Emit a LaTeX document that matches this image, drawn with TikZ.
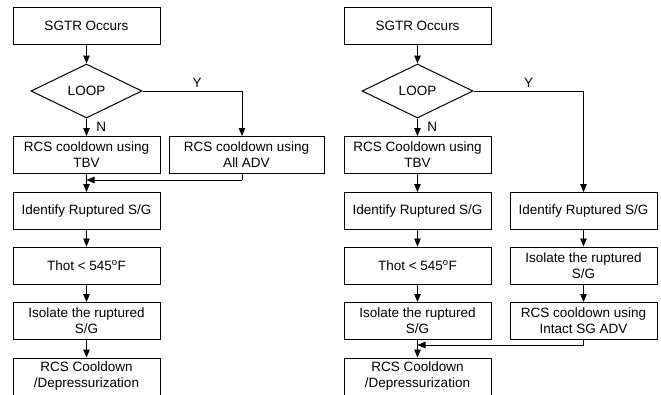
\documentclass[tikz,border=0pt]{standalone}
\usepackage{fontspec}
\setmainfont{Liberation Sans}
\usetikzlibrary{shapes}
\usetikzlibrary{arrows.meta}

\tikzset{
    box/.style={draw, line width=1pt, minimum width=147pt, minimum height=37pt,
        inner sep=0pt, align=center},
    decision/.style={draw, line width=1pt, diamond, minimum width=111pt,
        minimum height=54pt, inner sep=0pt},
    flow/.style={line width=0.9pt, -{Triangle[length=8pt,width=6.5pt]}},
    plain/.style={line width=0.9pt},
}

\begin{document}
\begin{tikzpicture}[x=1pt, y=-1pt, font=\fontsize{13.5}{16}\selectfont]
    \useasboundingbox (0,0) rectangle (661,394);

    \node[box] (occA) at (86.5,25.5) {SGTR Occurs};
    \node[decision] (loopA) at (86.5,91) {LOOP};
    \node[box] (tbvA) at (86.5,155) {RCS cooldown using\\TBV};
    \node[box, minimum width=155pt] (advA) at (246.5,155) {RCS cooldown using\\All ADV};
    \node[box] (idA) at (86.5,211) {Identify Ruptured S/G};
    \node[box] (thotA) at (86.5,265.5) {Thot < 545\textsuperscript{o}F};
    \node[box] (isoA) at (86.5,321) {Isolate the ruptured\\S/G};
    \node[box] (depA) at (86.5,376.5) {RCS Cooldown\\/Depressurization};

    \node[box] (occB) at (417.5,25.5) {SGTR Occurs};
    \node[decision] (loopB) at (417.5,91) {LOOP};
    \node[box] (tbvB) at (417.5,155) {RCS Cooldown using\\TBV};
    \node[box] (idB) at (417.5,211) {Identify Ruptured S/G};
    \node[box] (thotB) at (417.5,265.5) {Thot < 545\textsuperscript{o}F};
    \node[box] (isoB) at (417.5,321) {Isolate the ruptured\\S/G};
    \node[box] (depB) at (417.5,376.5) {RCS Cooldown\\/Depressurization};
    \node[box] (idC) at (583.5,211) {Identify Ruptured S/G};
    \node[box] (isoC) at (583.5,265.5) {Isolate the ruptured\\S/G};
    \node[box] (advC) at (583.5,321) {RCS cooldown using\\Intact SG ADV};

    \coordinate (yA) at (242,91);
    \coordinate (mA) at (242,180);
    \coordinate (jA) at (86.5,180);
    \coordinate (yB) at (583.5,91);
    \coordinate (mB) at (583.5,345);
    \coordinate (jB) at (417.5,345);

    \draw[flow] (occA) -- (loopA);
    \draw[flow] (loopA) -- node[right, xshift=6pt] {N} (tbvA);
    \draw[plain] (loopA.east) -- node[above, pos=0.55] {Y} (yA);
    \draw[flow] (yA) -- (yA |- advA.north);
    \draw[flow] (tbvA) -- (idA);
    \draw[plain] (mA |- advA.south) -- (mA);
    \draw[flow] (mA) -- (jA);
    \draw[flow] (idA) -- (thotA);
    \draw[flow] (thotA) -- (isoA);
    \draw[flow] (isoA) -- (depA);

    \draw[flow] (occB) -- (loopB);
    \draw[flow] (loopB) -- node[right, xshift=6pt] {N} (tbvB);
    \draw[plain] (loopB.east) -- node[above, pos=0.5] {Y} (yB);
    \draw[flow] (yB) -- (idC);
    \draw[flow] (tbvB) -- (idB);
    \draw[flow] (idB) -- (thotB);
    \draw[flow] (thotB) -- (isoB);
    \draw[flow] (isoB) -- (depB);
    \draw[flow] (idC) -- (isoC);
    \draw[flow] (isoC) -- (advC);
    \draw[plain] (advC) -- (mB);
    \draw[flow] (mB) -- (jB);
\end{tikzpicture}
\end{document}
